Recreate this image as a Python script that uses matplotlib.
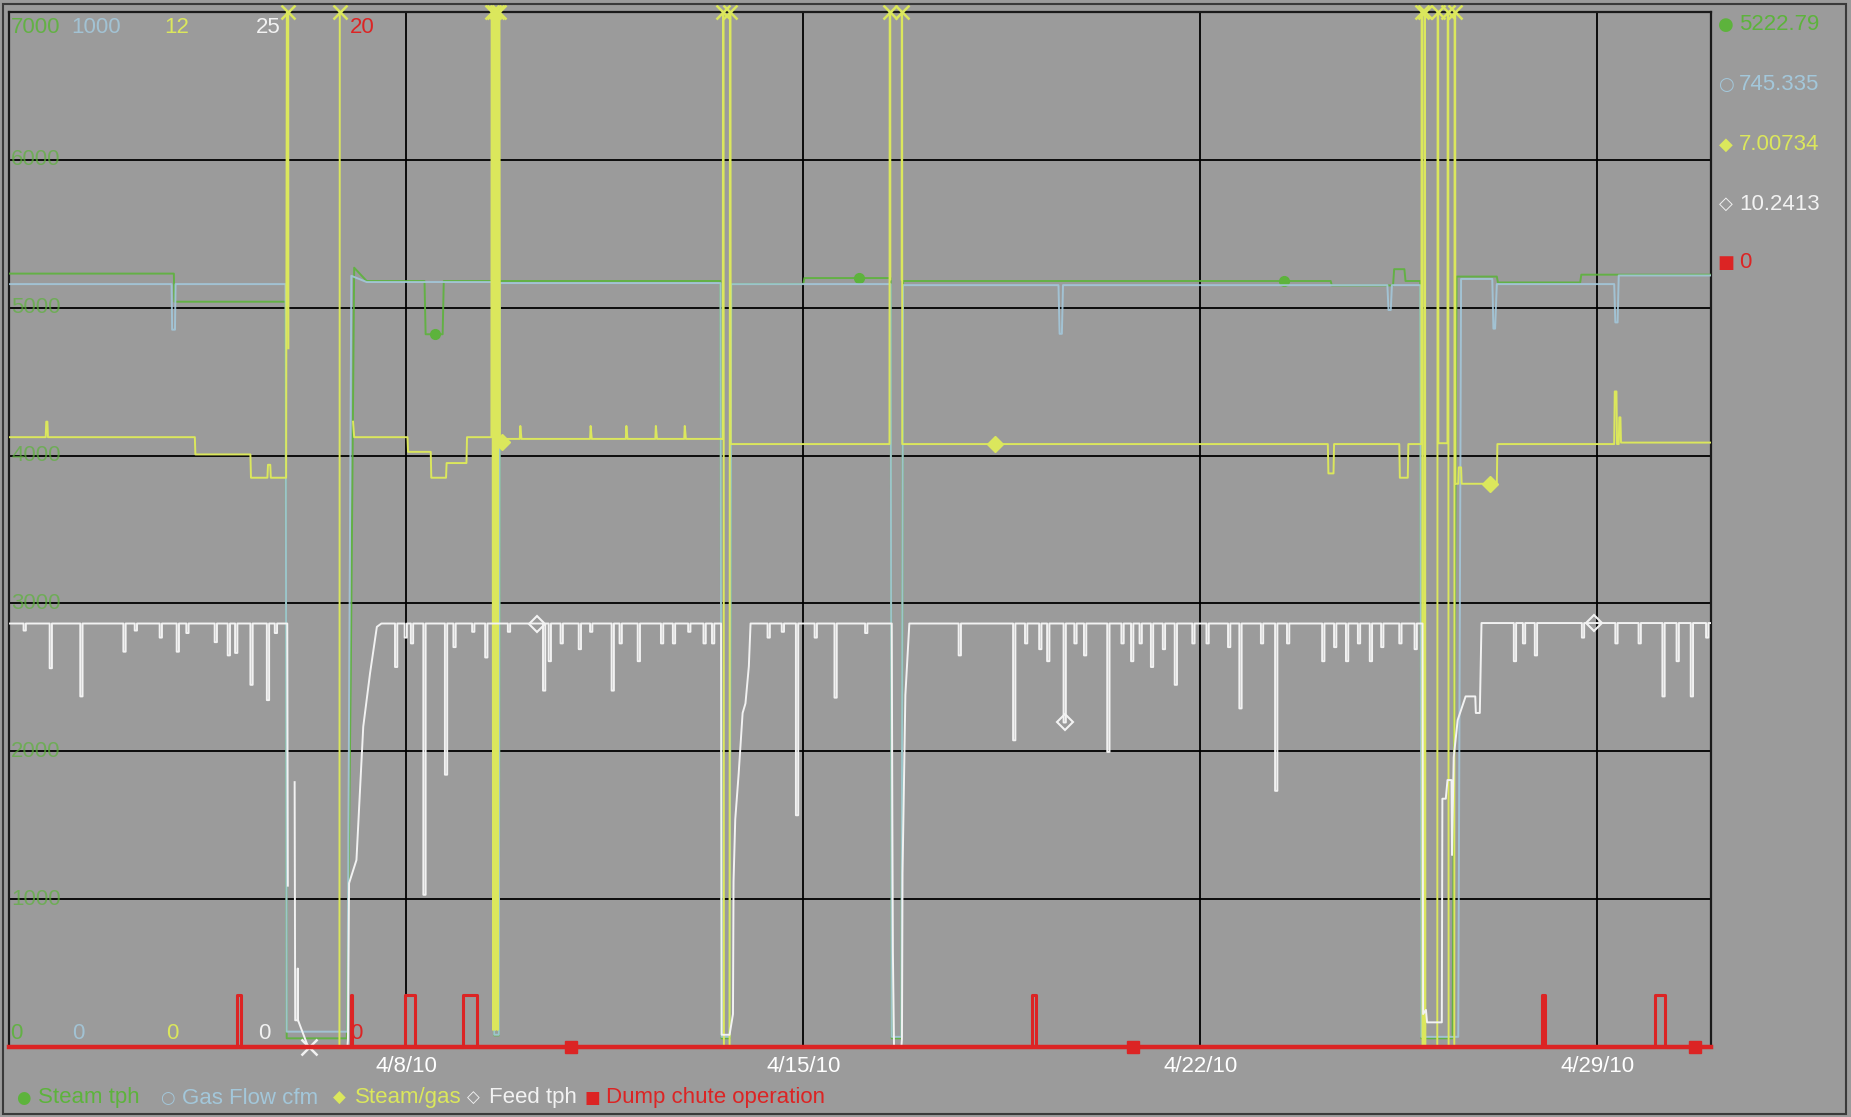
import numpy as np
import matplotlib
matplotlib.use("Agg")
import matplotlib.pyplot as plt
from matplotlib.transforms import blended_transform_factory
from matplotlib.patches import Rectangle

plt.rcParams['font.family'] = ['Liberation Sans', 'DejaVu Sans']

# ---------------- data (x = days since 4/1/10 00:00) ----------------
X_RANGE = [0, 30]
DATE_TICKS = [7, 14, 21, 28]
DATE_LABELS = ['4/8/10', '4/15/10', '4/22/10', '4/29/10']

SERIES_NAMES = ['Steam tph', 'Gas Flow cfm', 'Steam/gas', 'Feed tph', 'Dump chute operation']
AXIS_MAX = [7000, 1000, 12, 25, 20]
STEAM_GRID = [1000, 2000, 3000, 4000, 5000, 6000]

STEAM_T = [0, 2.90, 2.91, 4.87, 4.89, 5.95, 6.02, 6.08, 6.30, 7.32, 7.34, 7.64, 7.66, 8.53, 8.55,
           8.63, 8.65, 12.54, 12.56, 12.70, 12.73, 14.0, 14.02, 15.54, 15.56, 15.73, 15.76, 23.30,
           23.32, 24.40, 24.42, 24.60, 24.62, 24.88, 24.90, 25.45, 25.52, 26.23, 26.25, 27.70,
           27.72, 30.0]
STEAM_V = [5230, 5230, 5040, 5040, 60, 60, 2500, 5270, 5180, 5180, 4820, 4820, 5180, 5180, 80,
           80, 5180, 5180, 60, 60, 5160, 5160, 5200, 5200, 60, 60, 5180, 5180,
           5150, 5150, 5260, 5260, 5180, 5180, 60, 60, 5210, 5210, 5170, 5170,
           5222.79, 5222.79]

GAS_T = [0, 2.86, 2.87, 2.92, 2.93, 4.87, 4.89, 5.96, 6.03, 6.30, 8.53, 8.55, 8.63, 8.65, 12.54,
         12.56, 12.70, 12.73, 15.54, 15.56, 15.73, 15.76, 18.50, 18.52, 18.56, 18.58, 24.30,
         24.32, 24.36, 24.38, 24.88, 24.90, 25.55, 25.60, 26.15, 26.17, 26.20, 26.23, 28.30,
         28.32, 28.36, 28.38, 30.0]
GAS_V = [737, 737, 693, 693, 737, 737, 15, 15, 745, 739, 739, 12, 12, 738, 738,
         10, 10, 737, 737, 10, 10, 736, 736, 689, 689, 736, 736,
         712, 712, 736, 736, 10, 10, 742, 742, 694, 694, 737, 737,
         700, 700, 745.335, 745.335]

RATIO_T = [0, 0.64, 0.65, 0.67, 0.68, 3.27, 3.28, 4.25, 4.26, 4.55, 4.56, 4.60, 4.61, 4.88,
           4.91, 4.92, 4.93, 5.82, 5.83, 5.84, 6.06, 6.08, 7.02, 7.03, 7.43, 7.44, 7.70, 7.71,
           8.06, 8.07, 8.50, 8.51, 8.53, 8.55, 8.57, 8.59, 8.61, 8.63, 8.65, 8.70, 9.00, 9.01,
           9.03, 10.24, 10.25, 10.27, 10.87, 10.88, 10.90, 11.39, 11.40, 11.42, 11.90, 11.91,
           11.93, 12.58, 12.59, 12.60, 12.70, 12.71, 12.72, 15.52, 15.53, 15.535, 15.54,
           15.735, 15.74, 15.745, 23.25, 23.26, 23.35, 23.36, 24.51, 24.52, 24.66, 24.67,
           24.90, 24.91, 24.92, 24.95, 24.96, 24.97, 25.18, 25.19, 25.20, 25.36, 25.37, 25.38,
           25.48, 25.49, 25.50, 25.55, 25.56, 25.60, 25.61, 26.23, 26.24, 28.30, 28.31, 28.34,
           28.35, 28.38, 28.39, 28.41, 28.42, 30.0]
RATIO_V = [7.07, 7.07, 7.25, 7.25, 7.07, 7.07, 6.87, 6.87, 6.60, 6.60, 6.75, 6.75, 6.60, 6.60,
           20, 8.1, np.nan, 0, 20, np.nan, 7.25, 7.07, 7.07, 6.90, 6.90, 6.60, 6.60, 6.77,
           6.77, 7.07, 7.07, 20, 0.2, 20, 0.2, 20, 0.2, 20, 6.95, 7.05, 7.05, 7.2,
           7.05, 7.05, 7.2, 7.05, 7.05, 7.2, 7.05, 7.05, 7.2, 7.05, 7.05, 7.2,
           7.05, 7.05, 20, 0, 0, 20, 6.99, 6.99, 20, 8.9, np.nan,
           8.9, 20, 6.99, 6.99, 6.65, 6.65, 6.99, 6.99, 6.60, 6.60, 6.99,
           6.99, 20, 0, 0, 20, 0, 0, 20, 7.0, 7.0, 20, 0,
           0, 20, 6.53, 6.53, 6.72, 6.72, 6.53, 6.53, 6.99, 6.99, 7.60, 7.60,
           6.99, 6.99, 7.30, 7.30, 7.00734, 7.00734]

FEED_T = [0, 4.90, 4.91, 4.915, 5.03, 5.04, 5.08, 5.085, 5.09, 5.27, 5.96, 5.97, 5.99, 6.12,
          6.24, 6.36, 6.48, 6.56, 12.55, 12.56, 12.70, 12.76, 12.77, 12.80, 12.86, 12.93, 12.98,
          13.04, 13.07, 15.56, 15.57, 15.58, 15.60, 15.73, 15.74, 15.75, 15.80, 15.87, 24.92,
          24.93, 24.98, 25.0, 25.26, 25.27, 25.33, 25.36, 25.43, 25.44, 25.47, 25.54, 25.68,
          25.85, 25.86, 25.93, 25.96, 30.0]
FEED_V = [10.23, 10.23, 3.9, np.nan, 6.4, 0.65, 0.65, 1.9, 0.65, 0.0, 0.0, 0.17, 3.96, 4.52,
          7.74, 9.03, 10.15, 10.23, 10.23, 0.3, 0.3, 0.8, 4.0, 5.5, 6.6, 8.07, 8.3,
          9.2, 10.23, 10.23, 5.6, 2.3, 0, 0, 0.2, 4.2, 8.5, 10.23, 10.23,
          0.8, 0.9, 0.6, 0.6, 6.0, 6.0, 6.45, 6.45, 4.64, 7.0, 7.9, 8.47,
          8.47, 8.07, 8.07, 10.2413, 10.2413]
# short downward dips of the feed rate
FEED_DIP_T = [0.25, 0.71, 1.25, 2.01, 2.21, 2.65, 2.95, 3.12, 3.62, 3.85, 3.98, 4.25, 4.54, 4.68,
              6.80, 6.97, 7.08, 7.30, 7.68, 7.83, 8.16, 8.39, 8.79, 9.41, 9.51, 9.72, 10.04,
              10.24, 10.62, 10.76, 11.08, 11.49, 11.70, 11.97, 12.24, 12.39,
              13.37, 13.62, 13.87, 14.20, 14.55, 15.09,
              16.74, 17.70, 17.91, 18.16, 18.30, 18.59, 18.78, 18.95, 19.36, 19.61, 19.78, 19.93,
              20.13, 20.34, 20.55, 20.86, 21.11, 21.49, 21.69, 22.07, 22.32, 22.53, 23.15, 23.36,
              23.57, 23.78, 23.99, 24.19, 24.51, 24.78,
              26.53, 26.69, 26.90, 27.73, 28.32, 28.73, 29.15, 29.40, 29.65, 29.92]
FEED_DIP_V = [10.06, 9.15, 8.47, 9.55, 10.06, 9.89, 9.55, 10.0, 9.78, 9.46, 9.52, 8.75, 8.38, 10.0,
              9.18, 9.89, 9.75, 3.68, 6.58, 9.66, 10.03, 9.41, 10.03, 8.61, 9.32, 9.75, 9.61,
              10.03, 8.61, 9.75, 9.32, 9.75, 9.75, 10.03, 9.75, 9.75,
              9.89, 10.03, 5.6, 9.89, 8.44, 10.0,
              9.46, 7.41, 9.75, 9.61, 9.32, 7.84, 9.75, 9.46, 7.13, 9.75, 9.32, 9.75,
              9.18, 9.61, 8.75, 9.75, 9.75, 9.66, 8.18, 9.75, 6.19, 9.75, 9.32, 9.66,
              9.32, 9.75, 9.32, 9.66, 9.75, 9.61,
              9.32, 9.75, 9.46, 9.89, 9.75, 9.75, 8.47, 9.32, 8.47, 9.89]

DUMP_START = [4.02, 6.02, 6.97, 8.00, 18.03, 27.02, 29.02]
DUMP_END = [4.08, 6.05, 7.16, 8.25, 18.11, 27.08, 29.19]
DUMP_ON = 1.0

STEAM_MARK_T = [7.50, 14.99, 22.47]
RATIO_MARK_T = [8.68, 17.38, 26.11]
FEED_MARK_T = [9.31, 18.61, 27.94]
DUMP_MARK_T = [9.91, 19.82, 29.73]
FEED_CLIP_MARK_T = [5.29]

# ---------------- styling ----------------
BG = '#9b9b9b'
C_STEAM = '#5db33c'
C_GAS = '#a3c7da'
C_RATIO = '#dbe75c'
C_FEED = '#f2f2f2'
C_DUMP = '#dc2424'
COLORS = [C_STEAM, C_GAS, C_RATIO, C_FEED, C_DUMP]
FS = 16

W_PX, H_PX = 1851, 1117
fig = plt.figure(figsize=(W_PX / 100, H_PX / 100), dpi=100, facecolor=BG)
x0, x1, y0, y1 = 9.4, 1710.6, 11.8, 1047.2
ax = fig.add_axes([x0 / W_PX, 1 - y1 / H_PX, (x1 - x0) / W_PX, (y1 - y0) / H_PX])
ax.set_facecolor(BG)
ax.set_xlim(*X_RANGE)
ax.set_ylim(0, AXIS_MAX[0])
ax.set_yticks([0] + STEAM_GRID + [AXIS_MAX[0]])
ax.set_xticks(DATE_TICKS, DATE_LABELS)
ax.grid(True, color='black', lw=1.3)
ax.tick_params(length=0, labelleft=False, labelcolor='white', labelsize=FS, pad=6)
for name, sp in ax.spines.items():
    sp.set_color('#1a1a1a')
    sp.set_linewidth(1.6)

# series axes
axes = [ax]
for m in AXIS_MAX[1:]:
    t = ax.twinx()
    t.set_ylim(0, m)
    t.set_yticks([])
    for sp in t.spines.values():
        sp.set_visible(False)
    axes.append(t)
a_steam, a_gas, a_ratio, a_feed, a_dump = axes

# build feed with its dips
ft = list(FEED_T)
fv = list(FEED_V)
w = 0.04
for dt, dv in zip(FEED_DIP_T, FEED_DIP_V):
    base = float(np.interp(dt, FEED_T, FEED_V))
    ft += [dt, dt + 1e-4, dt + w, dt + w + 1e-4]
    fv += [base, dv, dv, base]
order = np.argsort(ft, kind='stable')
feed_t = np.array(ft)[order]
feed_v = np.array(fv)[order]

# dump chute step series
dt_ = [X_RANGE[0]]
dv_ = [0.0]
for s, e in zip(DUMP_START, DUMP_END):
    dt_ += [s, s, e, e]
    dv_ += [0.0, DUMP_ON, DUMP_ON, 0.0]
dt_.append(X_RANGE[1])
dv_.append(0.0)

lw = 1.4
a_steam.plot(STEAM_T, STEAM_V, color=C_STEAM, lw=lw, alpha=0.9, zorder=3)
a_gas.plot(GAS_T, GAS_V, color=C_GAS, lw=lw, alpha=0.9, zorder=3)
a_feed.plot(feed_t, feed_v, color=C_FEED, lw=lw, zorder=3)
a_ratio.plot(RATIO_T, RATIO_V, color=C_RATIO, lw=lw, zorder=3)
a_dump.plot(dt_, dv_, color=C_DUMP, lw=2.2, zorder=3, clip_on=False)
a_dump.plot(X_RANGE, [0, 0], color=C_DUMP, lw=3.2, zorder=3, clip_on=False)

# markers along series
a_steam.plot(STEAM_MARK_T, np.interp(STEAM_MARK_T, STEAM_T, STEAM_V), 'o', color=C_STEAM, ms=7, zorder=4)
ratio_clean = ~np.isnan(RATIO_V)
rt = np.array(RATIO_T)[ratio_clean]
rv = np.array(RATIO_V)[ratio_clean]
a_ratio.plot(RATIO_MARK_T, np.interp(RATIO_MARK_T, rt, rv), 'D', color=C_RATIO, ms=8, zorder=4)
fclean = ~np.isnan(feed_v)
a_feed.plot(FEED_MARK_T, np.interp(FEED_MARK_T, feed_t[fclean], feed_v[fclean]), 'D', mfc='none',
            mec=C_FEED, mew=1.5, ms=8, zorder=4)
a_feed.plot(FEED_CLIP_MARK_T, [0] * len(FEED_CLIP_MARK_T), 'x', color=C_FEED, ms=11, mew=1.8,
            zorder=4, clip_on=False)
a_dump.plot(DUMP_MARK_T, [0] * len(DUMP_MARK_T), 's', color=C_DUMP, ms=8, zorder=4, clip_on=False)
# off-scale ratio points marked at the top edge
over = np.array(RATIO_V, dtype=float) > AXIS_MAX[2]
a_ratio.plot(np.array(RATIO_T)[over], [AXIS_MAX[2]] * int(over.sum()), 'x', color=C_RATIO,
             ms=10, mew=1.8, zorder=4, clip_on=False)

# scale labels inside the plot
top_x = [0.0156, 0.0509, 0.0985, 0.152, 0.2073]
bot_x = [0.0042, 0.0403, 0.0956, 0.1497, 0.2038]
for i, m in enumerate(AXIS_MAX):
    ax.text(top_x[i], 0.9853, f'{m}', transform=ax.transAxes, color=COLORS[i], fontsize=FS,
            ha='center', va='center', alpha=0.9 if i < 2 else 1, zorder=6)
    ax.text(bot_x[i], 0.0128, '0', transform=ax.transAxes, color=COLORS[i], fontsize=FS,
            ha='center', va='center', alpha=0.9 if i < 2 else 1, zorder=6)
bt = blended_transform_factory(ax.transAxes, ax.transData)
for g in STEAM_GRID:
    ax.text(0.0156, g, f'{g}', transform=bt, color=C_STEAM, fontsize=FS, ha='center',
            va='center', alpha=0.7, zorder=6)

# right-hand current values
last_vals = [STEAM_V[-1], GAS_V[-1], RATIO_V[-1], FEED_V[-1], dv_[-1]]
glyphs = ['\u25cf', '\u25cb', '\u25c6', '\u25c7', '\u25a0']
ry = [25, 85, 145, 204, 263]
for i in range(5):
    fig.text(1726 / W_PX, 1 - ry[i] / H_PX, glyphs[i], color=COLORS[i], fontsize=FS - 3,
             ha='center', va='center', family='DejaVu Sans')
    fig.text(1739 / W_PX, 1 - ry[i] / H_PX, f'{last_vals[i]:g}', color=COLORS[i], fontsize=FS,
             ha='left', va='center')

# bottom legend
lx = [16, 160, 333, 467, 584]
for i, name in enumerate(SERIES_NAMES):
    fig.text(lx[i] / W_PX, 1 - 1098 / H_PX, glyphs[i], color=COLORS[i], fontsize=FS - 4,
             ha='left', va='center', family='DejaVu Sans')
    fig.text((lx[i] + 22) / W_PX, 1 - 1098 / H_PX, name, color=COLORS[i], fontsize=FS,
             ha='left', va='center')

fig.patches.append(Rectangle((3 / W_PX, 3 / H_PX), (W_PX - 8) / W_PX, (H_PX - 7) / H_PX,
                             transform=fig.transFigure, fill=False, ec='#3a3a3a', lw=1.5))

fig.savefig('out.png', dpi=100, facecolor=BG)
